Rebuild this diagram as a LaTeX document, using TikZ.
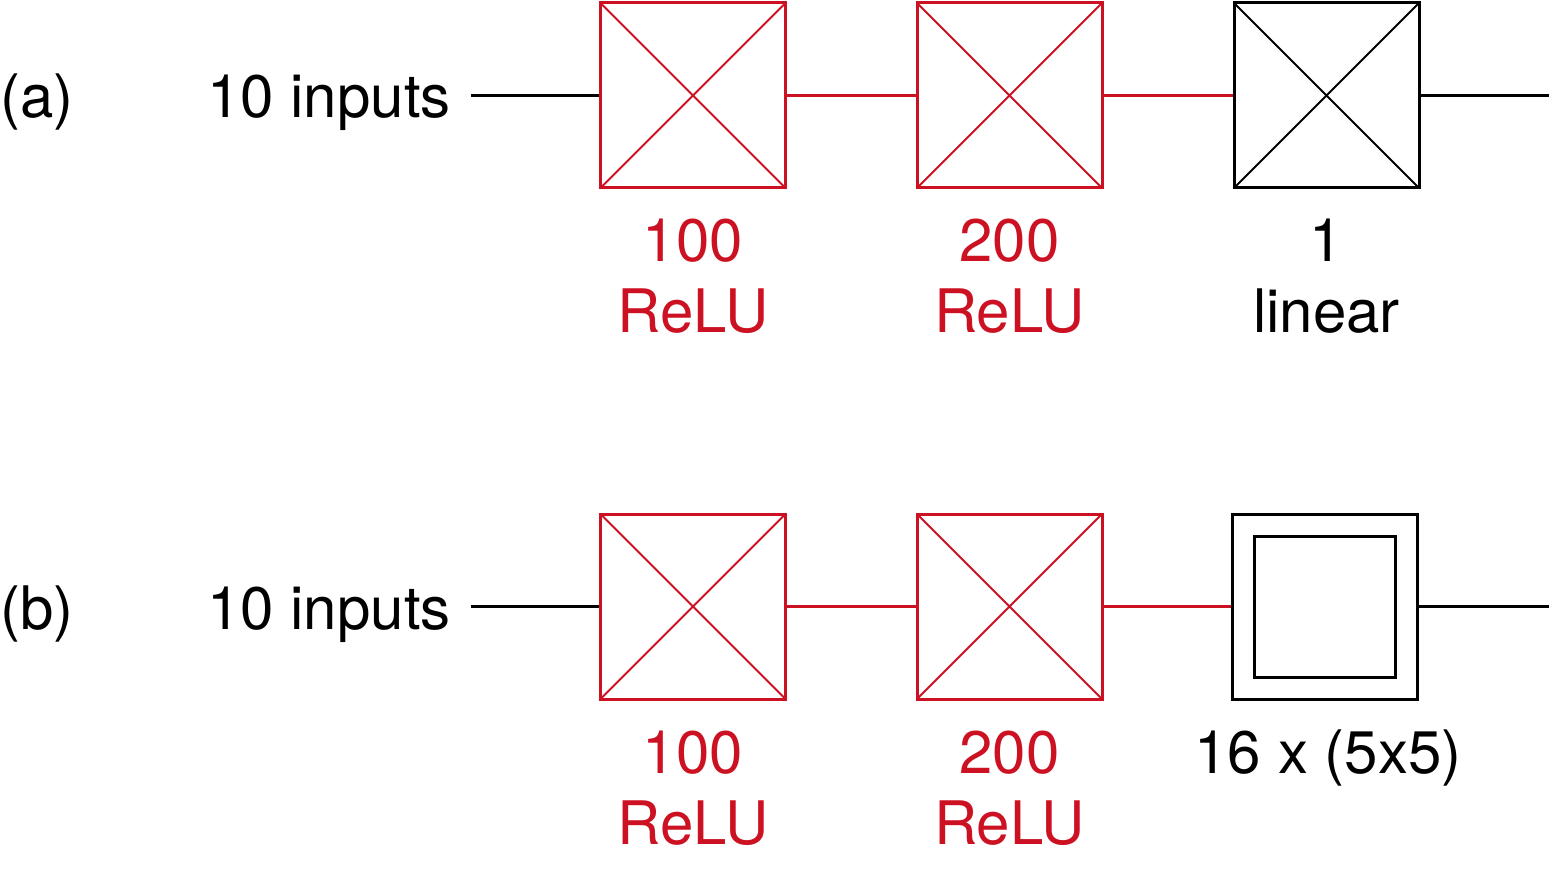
\documentclass[tikz,border=0pt]{standalone}
\usepackage{fontspec}
\setmainfont{TeX Gyre Heros}
\definecolor{relured}{RGB}{204,17,34}
\begin{document}
\begin{tikzpicture}[x=1pt,y=-1pt,
  every node/.style={font=\fontsize{60}{71}\selectfont},
  xbox/.style={draw, line width=3pt, inner sep=0pt, minimum size=185pt,
    path picture={\draw[line width=2pt] (path picture bounding box.north west) -- (path picture bounding box.south east)
      (path picture bounding box.north east) -- (path picture bounding box.south west);}},
  redbox/.style={xbox, draw=relured, relured},
  blackbox/.style={xbox, draw=black},
  convbox/.style={draw, line width=3pt, inner sep=0pt, minimum size=185pt},
  innerbox/.style={draw, line width=3pt, inner sep=0pt, minimum size=141pt},
  wire/.style={line width=3pt},
  redwire/.style={wire, relured},
  lab/.style={anchor=base, inner sep=0pt},
  redlab/.style={lab, text=relured},
]
\useasboundingbox (0,0) rectangle (1549,874);

% ---------- row (a) ----------
\node[lab, anchor=base west] (ta) at (0,118) {(a)};
\node[lab, anchor=base east] (ina) at (451,118) {10 inputs};
\node[redbox] (a1) at (693,95.5) {};
\node[redbox] (a2) at (1009.5,95.5) {};
\node[blackbox] (a3) at (1326.5,95.5) {};
\coordinate (outa) at (1549,95.5);
\coordinate (ina0) at (471,95.5);
\draw[wire] (ina0) -- (a1.west);
\draw[redwire] (a1.east) -- (a2.west);
\draw[redwire] (a2.east) -- (a3.west);
\draw[wire] (a3.east) -- (outa);
\node[redlab] (a1n) at (693,262) {100};
\node[redlab] (a1r) at (693,333) {ReLU};
\node[redlab] (a2n) at (1009.5,262) {200};
\node[redlab] (a2r) at (1009.5,333) {ReLU};
\node[lab] (a3n) at (1326.5,262) {1};
\node[lab] (a3r) at (1326.5,333) {linear};

% ---------- row (b) ----------
\node[lab, anchor=base west] (tb) at (0,629) {(b)};
\node[lab, anchor=base east] (inb) at (451,629) {10 inputs};
\node[redbox] (b1) at (693,606.5) {};
\node[redbox] (b2) at (1009.5,606.5) {};
\node[convbox] (b3) at (1325,606.5) {};
\node[innerbox] (b3i) at (1325,606.5) {};
\coordinate (outb) at (1549,606.5);
\coordinate (inb0) at (471,606.5);
\draw[wire] (inb0) -- (b1.west);
\draw[redwire] (b1.east) -- (b2.west);
\draw[redwire] (b2.east) -- (b3.west);
\draw[wire] (b3.east) -- (outb);
\node[redlab] (b1n) at (693,773) {100};
\node[redlab] (b1r) at (693,844) {ReLU};
\node[redlab] (b2n) at (1009.5,773) {200};
\node[redlab] (b2r) at (1009.5,844) {ReLU};
\node[lab] (b3n) at (1328,773) {16 x (5x5)};
\end{tikzpicture}
\end{document}
